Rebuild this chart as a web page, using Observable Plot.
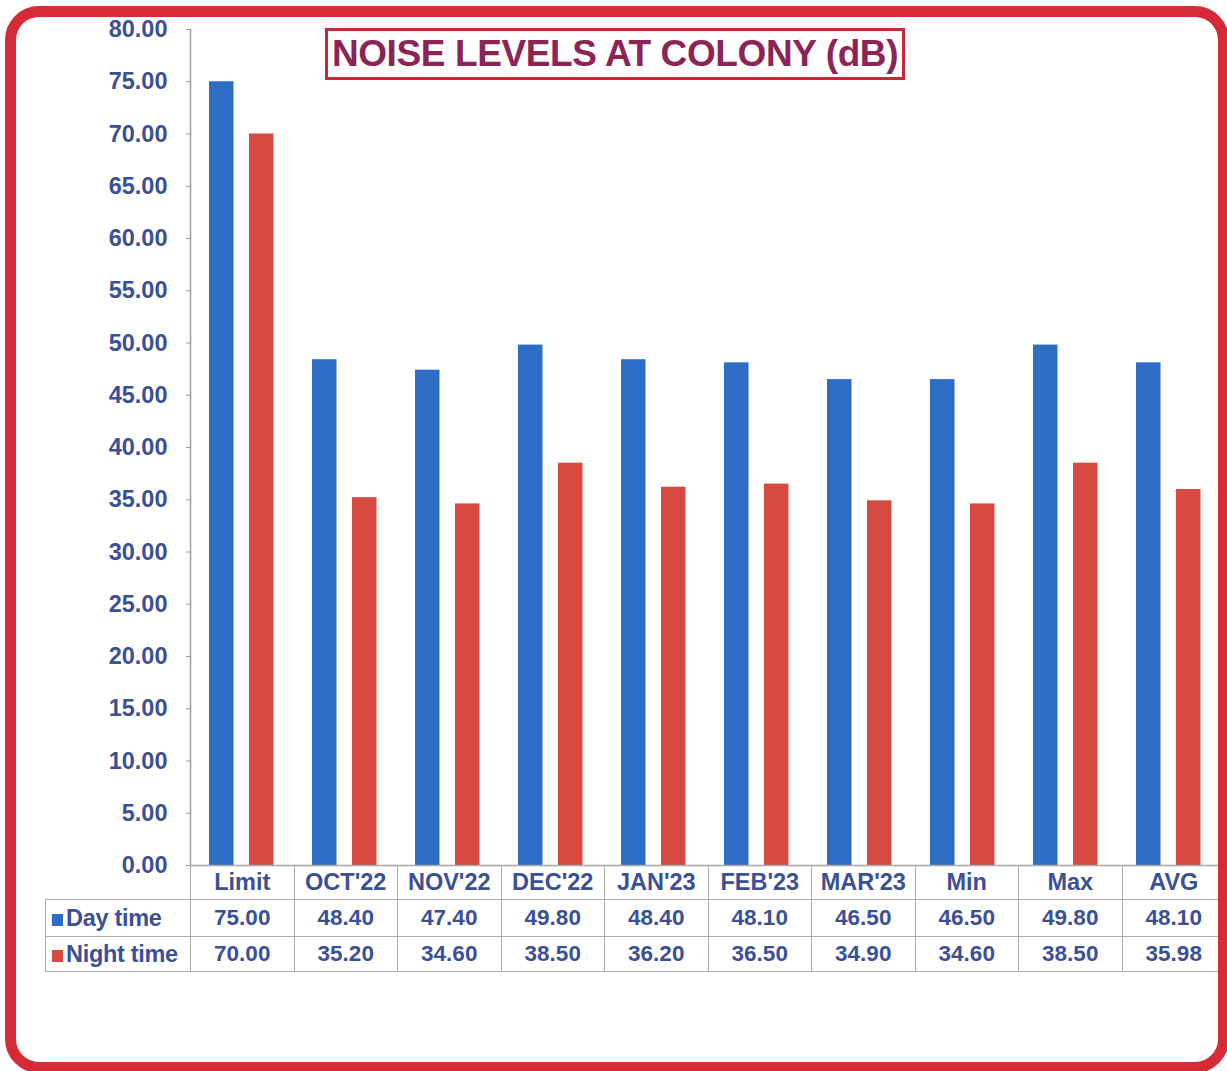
<!DOCTYPE html>
<html>
<head>
<meta charset="utf-8">
<script src="https://cdn.jsdelivr.net/npm/d3@7"></script>
<script src="https://cdn.jsdelivr.net/npm/@observablehq/plot@0.6"></script>
<style>
  html, body { margin: 0; padding: 0; background: #fff; }
  #page { position: relative; width: 1227px; height: 1071px; overflow: hidden; font-family: "Liberation Sans", Arial, sans-serif; }
  #border { position: absolute; left: 5px; top: 6px; width: 1224px; height: 1067px; box-sizing: border-box; border: 11px solid #d62b36; border-radius: 34px; z-index: 5; }
  #chart { position: absolute; left: 0; top: 0; }
  #title { position: absolute; left: 325px; top: 28px; width: 580px; height: 52px; box-sizing: border-box; border: 3px solid #c8283a; background: #fff; color: #8c2456; font-weight: bold; font-size: 37px; letter-spacing: -0.4px; text-align: center; line-height: 46px; z-index: 3; }
  #tbl { position: absolute; left: 45px; top: 865px; border-collapse: collapse; table-layout: fixed; color: #3c5096; font-weight: bold; font-size: 22.5px; }
  #tbl td { border: 1.5px solid #ababab; text-align: center; padding: 0; white-space: nowrap; }
  #tbl tr.h td { height: 33px; font-size: 23.5px; }
  #tbl tr.r1 td { height: 36px; }
  #tbl tr.r2 td { height: 34px; }
  #tbl td.blank { border-top: none; border-left: none; }
  #tbl td.rh { text-align: left; padding-left: 6px; font-size: 23.5px; letter-spacing: -0.3px; }
  .sw { display: inline-block; width: 11px; height: 12px; margin-right: 3px; vertical-align: 0px; }
</style>
</head>
<body>
<div id="page">
  <div id="chart"></div>
  <table id="tbl"></table>
  <div id="title">NOISE LEVELS AT COLONY (dB)</div>
  <div id="border"></div>
</div>
<script>
const categories = ["Limit", "OCT'22", "NOV'22", "DEC'22", "JAN'23", "FEB'23", "MAR'23", "Min", "Max", "AVG"];
const dayTime = [75.00, 48.40, 47.40, 49.80, 48.40, 48.10, 46.50, 46.50, 49.80, 48.10];
const nightTime = [70.00, 35.20, 34.60, 38.50, 36.20, 36.50, 34.90, 34.60, 38.50, 35.98];
const seriesNames = ["Day time", "Night time"];
const seriesColors = ["#2e6dc6", "#d64a42"];
const yTicks = d3.range(0, 81, 5);

const dayData = categories.map((c, i) => ({cat: c, v: dayTime[i]}));
const nightData = categories.map((c, i) => ({cat: c, v: nightTime[i]}));

const textColor = "#3c5096";
const plot = Plot.plot({
  width: 1227,
  height: 900,
  marginLeft: 190,
  marginRight: 2,
  marginTop: 29,
  marginBottom: 35,
  style: {fontFamily: "'Liberation Sans', Arial, sans-serif", background: "transparent", overflow: "visible"},
  x: {domain: categories, padding: 0, axis: null},
  y: {domain: [0, 80], axis: null},
  marks: [
    Plot.barY(dayData, {x: "cat", y: "v", fill: seriesColors[0], insetLeft: 16, insetRight: 62.5}),
    Plot.barY(nightData, {x: "cat", y: "v", fill: seriesColors[1], insetLeft: 56, insetRight: 22.5}),
    Plot.axisY({ticks: yTicks, tickFormat: d3.format(".2f"), label: null, tickSize: 4, tickPadding: 19, stroke: "#9a9a9a", fill: textColor, fontSize: 23.5, fontWeight: "bold"}),
    Plot.frame({anchor: "left", stroke: "#a0a0a0", strokeWidth: 1.5}),
    Plot.ruleY([0], {stroke: "#a0a0a0", strokeWidth: 1.5})
  ]
});
document.getElementById("chart").appendChild(plot);

// data table below the chart
const tbl = document.getElementById("tbl");
const colgroup = document.createElement("colgroup");
const c0 = document.createElement("col"); c0.style.width = "145px"; colgroup.appendChild(c0);
categories.forEach(() => { const c = document.createElement("col"); c.style.width = "103.5px"; colgroup.appendChild(c); });
tbl.appendChild(colgroup);

const hr = document.createElement("tr"); hr.className = "h";
const blank = document.createElement("td"); blank.className = "blank"; hr.appendChild(blank);
categories.forEach(c => { const td = document.createElement("td"); td.textContent = c; hr.appendChild(td); });
tbl.appendChild(hr);

[dayTime, nightTime].forEach((vals, k) => {
  const tr = document.createElement("tr"); tr.className = k === 0 ? "r1" : "r2";
  const th = document.createElement("td"); th.className = "rh";
  const sw = document.createElement("span"); sw.className = "sw"; sw.style.background = seriesColors[k];
  th.appendChild(sw);
  th.appendChild(document.createTextNode(seriesNames[k]));
  tr.appendChild(th);
  vals.forEach(v => { const td = document.createElement("td"); td.textContent = v.toFixed(2); tr.appendChild(td); });
  tbl.appendChild(tr);
});
</script>
</body>
</html>
